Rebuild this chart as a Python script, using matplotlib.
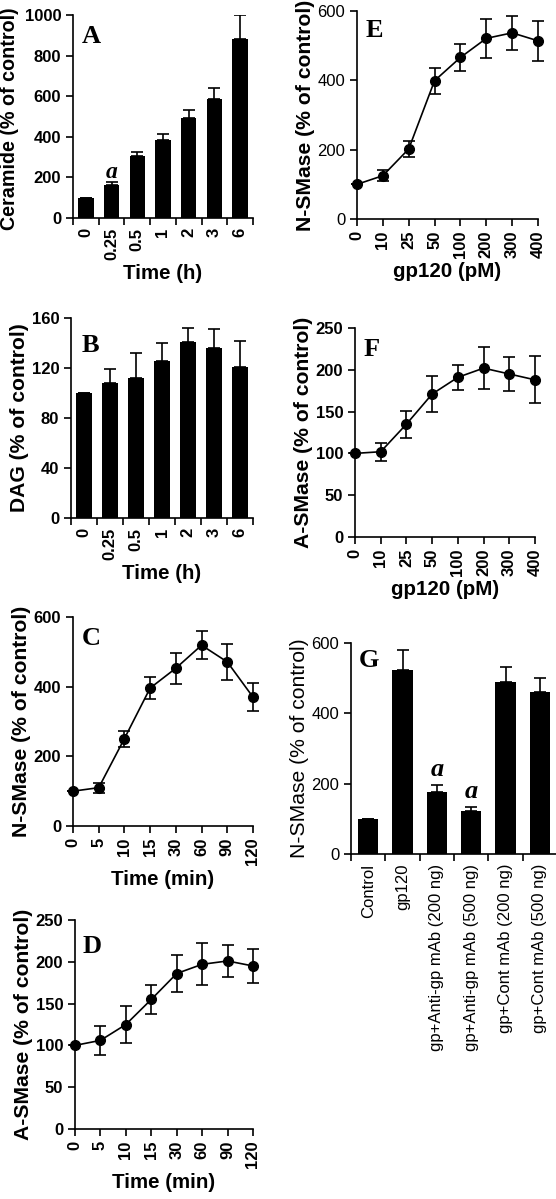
import matplotlib
matplotlib.use('Agg')
from matplotlib import pyplot as plt
import numpy as np

plt.rcParams['font.family'] = ['Liberation Sans', 'DejaVu Sans']
plt.rcParams['axes.linewidth'] = 1.2

# A: ceramide over time (h)
time_h = ['0', '0.25', '0.5', '1', '2', '3', '6']
ceramide = [100, 164, 303, 382, 492, 585, 880]
ceramide_err = [0, 11, 22, 33, 38, 55, 120]

# B: DAG over time (h)
dag = [100, 108, 112, 126, 141, 136, 121]
dag_err = [0, 11, 20, 14, 11, 15, 21]

# C / D: N-SMase and A-SMase over time (min)
time_min = ['0', '5', '10', '15', '30', '60', '90', '120']
nsmase_t = [100, 110, 251, 396, 453, 519, 471, 370]
nsmase_t_err = [0, 14, 23, 32, 45, 41, 52, 40]
asmase_t = [100, 106, 125, 155, 186, 197, 201, 195]
asmase_t_err = [0, 17, 22, 17, 22, 25, 19, 20]

# E / F: N-SMase and A-SMase vs gp120 dose (pM)
dose = ['0', '10', '25', '50', '100', '200', '300', '400']
nsmase_d = [100, 125, 202, 399, 466, 521, 537, 514]
nsmase_d_err = [0, 16, 22, 37, 40, 57, 50, 58]
asmase_d = [100, 102, 135, 171, 191, 202, 195, 188]
asmase_d_err = [0, 11, 16, 21, 15, 25, 20, 28]

# G: antibody blocking
treat = ['Control', 'gp120', 'gp+Anti-gp mAb (200 ng)', 'gp+Anti-gp mAb (500 ng)',
         'gp+Cont mAb (200 ng)', 'gp+Cont mAb (500 ng)']
nsmase_g = [100, 522, 175, 123, 489, 462]
nsmase_g_err = [0, 57, 20, 11, 42, 38]

W, H = 556, 1199
fig = plt.figure(figsize=(W / 100, H / 100), dpi=100)

TICK = 12
YLAB = 15.2
XLAB = 14.8


def make_ax(left, right, top, bottom):
    ax = fig.add_axes([left / W, 1 - bottom / H, (right - left) / W, (bottom - top) / H])
    ax.spines['top'].set_visible(False)
    ax.spines['right'].set_visible(False)
    ax.tick_params(axis='both', direction='out', length=5, width=1.2, labelsize=TICK)
    return ax


def labels(ax, ylabel, xlabel=None, weight='bold', ysize=YLAB):
    ax.set_ylabel(ylabel, fontsize=ysize, fontweight=weight, labelpad=2)
    if xlabel:
        ax.set_xlabel(xlabel, fontsize=XLAB, fontweight=weight, labelpad=3)


def weigh(ax, xw='bold', yw='bold'):
    for t in ax.get_xticklabels():
        t.set_fontweight(xw)
    for t in ax.get_yticklabels():
        t.set_fontweight(yw)


def letter(ax, s, x, y):
    ax.text(x, y, s, transform=ax.transAxes, ha='left', va='top',
            family='Liberation Serif', fontweight='bold', fontsize=19)


def sig(ax, x, y, off, size):
    ax.annotate('a', (x, y), xytext=(0, off), textcoords='offset points',
                ha='center', va='baseline', family='Liberation Serif',
                style='italic', fontweight='bold', fontsize=size)


def bar_panel(ax, cats, vals, errs, ylim, yticks):
    x = np.arange(len(cats))
    ax.bar(x, vals, width=0.6, color='black')
    ax.errorbar(x, vals, yerr=[np.zeros(len(errs)), errs], fmt='none',
                ecolor='black', elinewidth=1.2, capsize=4.3, capthick=1.2)
    ax.set_xlim(-0.5, len(cats) - 0.5)
    ax.set_ylim(*ylim)
    ax.set_yticks(yticks)
    ax.set_xticks(x)
    ax.set_xticklabels(cats, rotation=90)
    ax.set_xticks(np.arange(len(cats) + 1) - 0.5, minor=True)
    ax.tick_params(axis='x', which='major', length=0, pad=7)
    ax.tick_params(axis='x', which='minor', length=5, width=1.2)


def line_panel(ax, cats, vals, errs, ylim, yticks):
    x = np.arange(len(cats))
    ax.errorbar(x, vals, yerr=errs, fmt='o-', color='black', ms=7, lw=1.2,
                elinewidth=1.2, capsize=4.3, capthick=1.2, clip_on=False)
    ax.set_xlim(0, len(cats) - 1)
    ax.set_ylim(*ylim)
    ax.set_yticks(yticks)
    ax.set_xticks(x)
    ax.set_xticklabels(cats, rotation=90)


# A
axA = make_ax(73, 253, 15, 218)
bar_panel(axA, time_h, ceramide, ceramide_err, (0, 1000), range(0, 1001, 200))
labels(axA, 'Ceramide (% of control)', 'Time (h)', ysize=14.2)
axA.yaxis.set_label_coords(-0.3, 0.49)
weigh(axA)
sig(axA, 1, ceramide[1] + ceramide_err[1], 3, 17)
letter(axA, 'A', 0.05, 0.95)

# B
axB = make_ax(71, 253, 318, 518)
bar_panel(axB, time_h, dag, dag_err, (0, 160), range(0, 161, 40))
labels(axB, 'DAG (% of control)', 'Time (h)')
weigh(axB)
letter(axB, 'B', 0.06, 0.92)

# C
axC = make_ax(73, 253, 617, 826)
line_panel(axC, time_min, nsmase_t, nsmase_t_err, (0, 600), range(0, 601, 200))
labels(axC, 'N-SMase (% of control)', 'Time (min)')
weigh(axC)
letter(axC, 'C', 0.05, 0.95)

# D
axD = make_ax(75, 253, 920, 1129)
line_panel(axD, time_min, asmase_t, asmase_t_err, (0, 250), range(0, 251, 50))
labels(axD, 'A-SMase (% of control)', 'Time (min)')
weigh(axD)
letter(axD, 'D', 0.04, 0.93)

# E
axE = make_ax(357, 538, 11, 219)
line_panel(axE, dose, nsmase_d, nsmase_d_err, (0, 600), range(0, 601, 200))
labels(axE, 'N-SMase (% of control)', 'gp120 (pM)')
weigh(axE, yw='normal')
letter(axE, 'E', 0.05, 0.96)

# F
axF = make_ax(355, 535, 328, 537)
line_panel(axF, dose, asmase_d, asmase_d_err, (0, 250), range(0, 251, 50))
labels(axF, 'A-SMase (% of control)', 'gp120 (pM)')
weigh(axF)
letter(axF, 'F', 0.05, 0.95)

# G
axG = make_ax(351, 557, 643, 854)
bar_panel(axG, treat, nsmase_g, nsmase_g_err, (0, 600), range(0, 601, 200))
labels(axG, 'N-SMase (% of control)', weight='normal')
weigh(axG, 'normal', 'normal')
for i in (2, 3):
    sig(axG, i, nsmase_g[i] + nsmase_g_err[i], 6.5, 19)
letter(axG, 'G', 0.04, 0.97)

fig.savefig('out.png', dpi=100)
